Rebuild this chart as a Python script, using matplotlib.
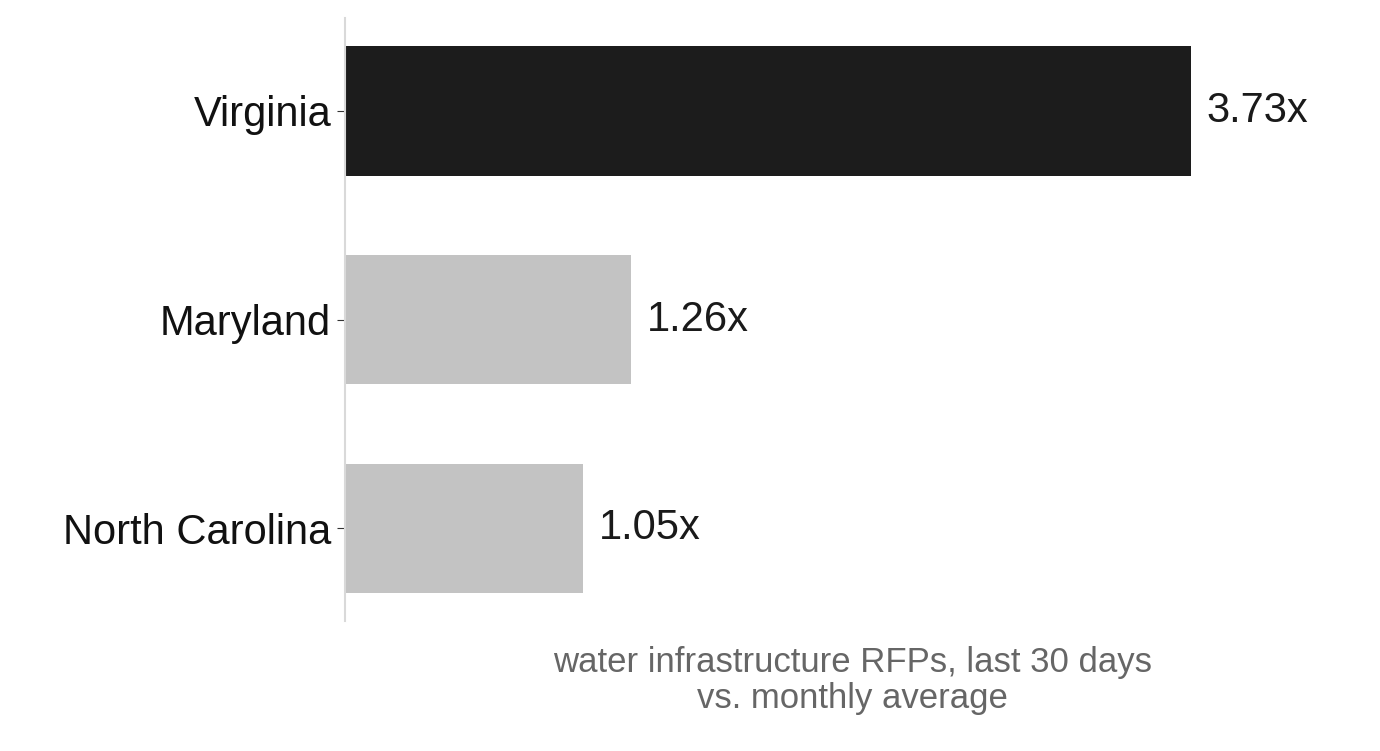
import matplotlib
matplotlib.use("Agg")
import matplotlib.pyplot as plt

states = ["Virginia", "Maryland", "North Carolina"]
values = [3.73, 1.26, 1.05]
labels = ["3.73x", "1.26x", "1.05x"]
colors = ["#1c1c1c", "#c3c3c3", "#c3c3c3"]

plt.rcParams['font.family'] = ['Liberation Sans', 'DejaVu Sans']
fig = plt.figure(figsize=(13.8, 7.51), dpi=100)
ax = fig.add_axes([0.25, 0.173, 0.7355, 0.803])
y = list(range(len(states)))
ax.barh(y, values, height=0.62, color=colors)
for yi, v, t in zip(y, values, labels):
    ax.text(v + 0.07, yi, t, va="center", ha="left", fontsize=30, color="#1a1a1a")
ax.set_yticks(y)
ax.set_yticklabels(states, fontsize=30, color="#111111")
ax.set_ylim(2.445, -0.445)
ax.set_xlim(0, 4.475)
ax.set_xticks([])
for s in ["top", "right", "bottom"]:
    ax.spines[s].set_visible(False)
ax.spines["left"].set_color("#d9d9d9")
ax.spines["left"].set_linewidth(1.5)
ax.tick_params(axis="y", length=6, color="#333333", pad=4)
ax.set_xlabel("water infrastructure RFPs, last 30 days\nvs. monthly average",
              fontsize=25, color="#666666", labelpad=18, linespacing=1.1)
fig.savefig("out.png", dpi=100)
